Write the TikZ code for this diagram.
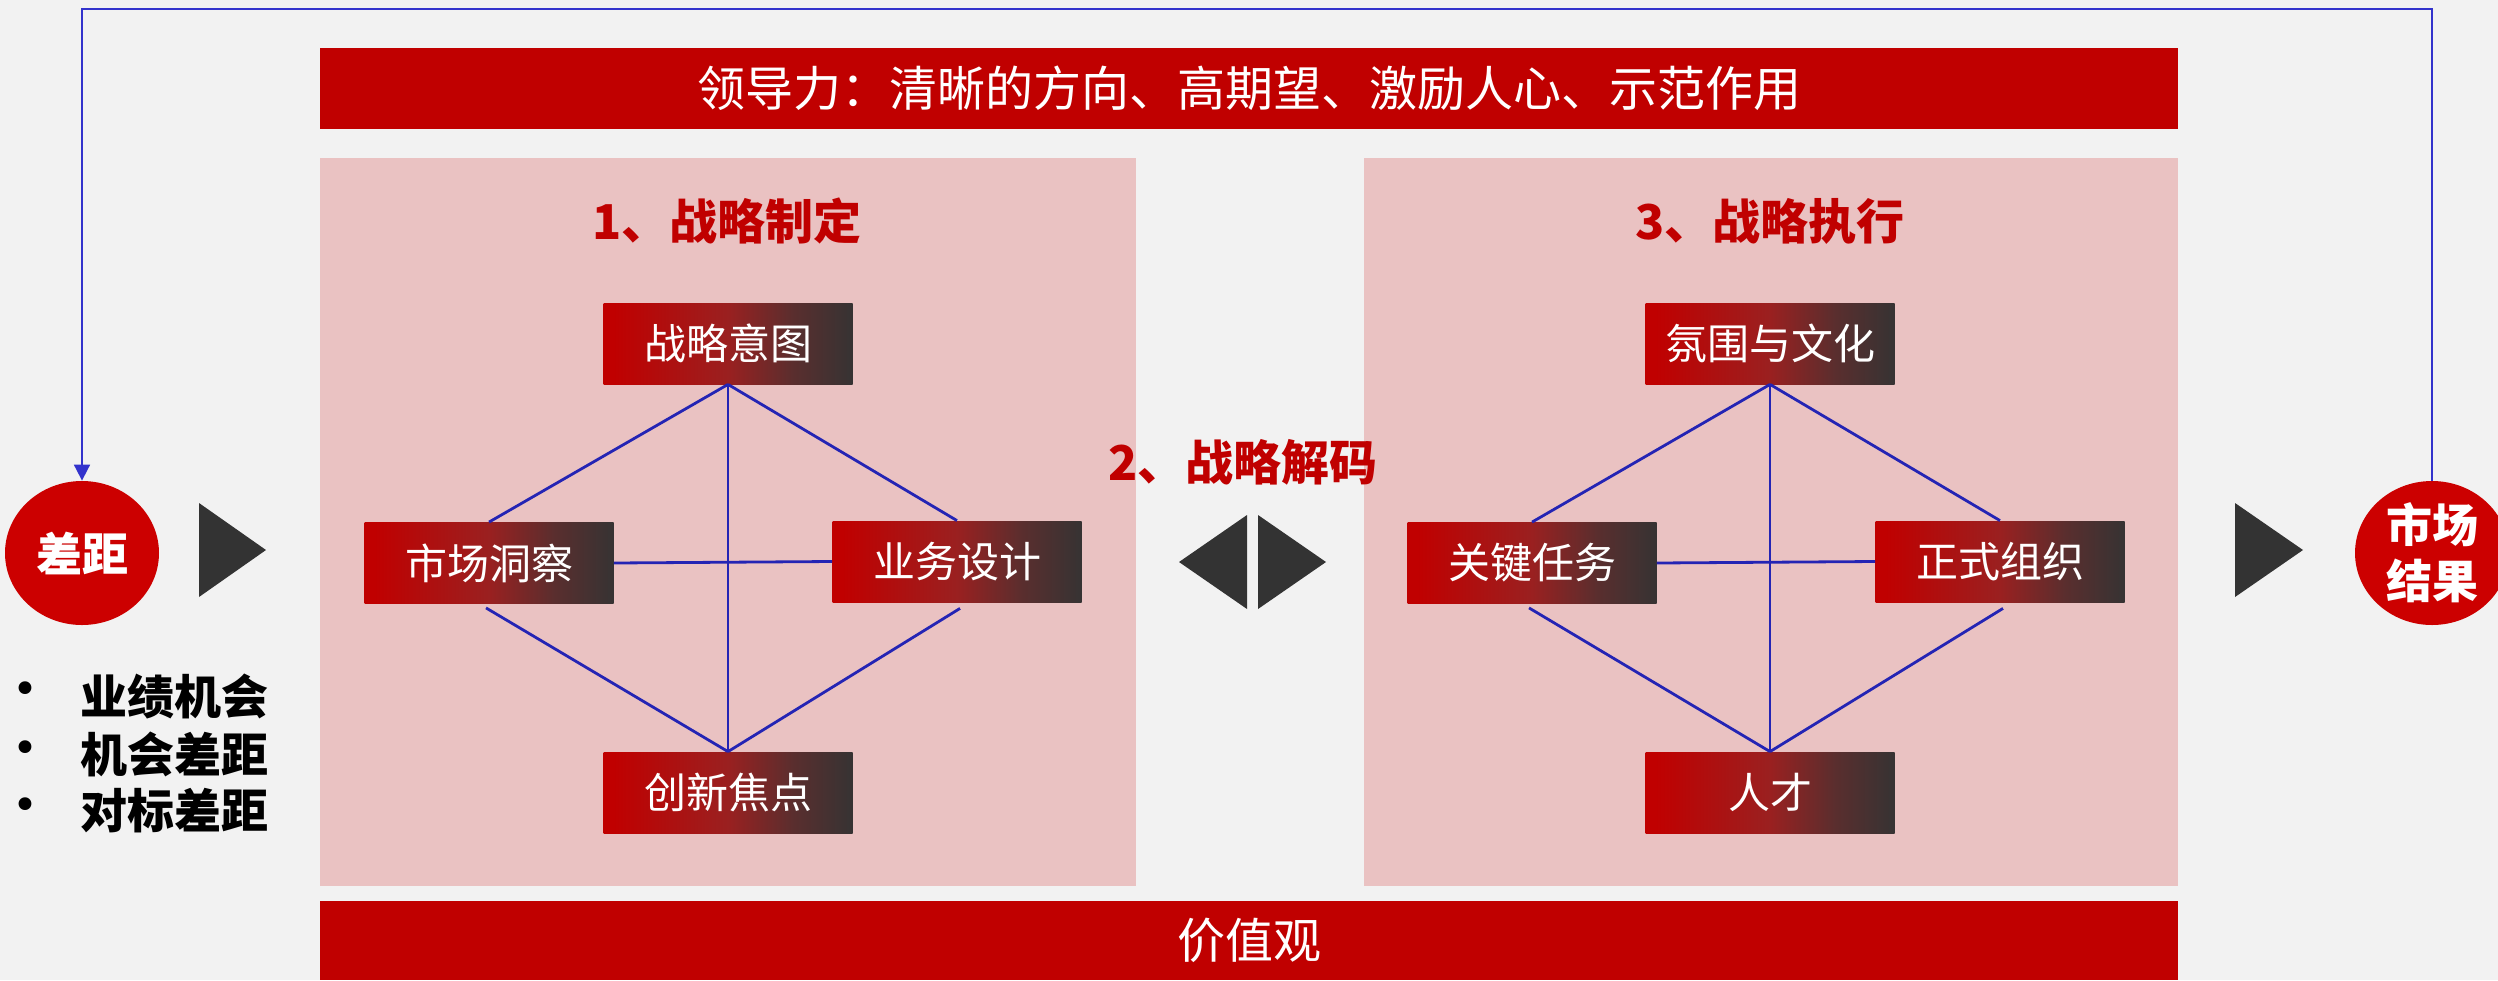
\documentclass[tikz,border=0pt]{standalone}
\usepackage{fontspec}
\newfontfamily\cjk{Noto Sans CJK SC}
\newfontfamily\dejavu{DejaVu Sans}
\usetikzlibrary{shapes.geometric,arrows.meta}
\definecolor{bg}{HTML}{F2F2F2}
\definecolor{bannerred}{HTML}{C00000}
\definecolor{panelpink}{HTML}{EAC2C2}
\definecolor{circred}{HTML}{CC0000}
\definecolor{linkblue}{HTML}{2424B4}
\definecolor{fbblue}{HTML}{3333CC}
\definecolor{tridark}{HTML}{333333}
\definecolor{bred}{HTML}{C00000}
\definecolor{bmid}{HTML}{9A2020}
\definecolor{bmid2}{HTML}{5A2E2E}
\definecolor{bdark}{HTML}{363333}
\pgfdeclarehorizontalshading{boxgrad}{100bp}{color(0bp)=(bred); color(27bp)=(bred); color(50bp)=(bmid); color(63bp)=(bmid2); color(75bp)=(bdark); color(100bp)=(bdark)}
\tikzset{
  banner/.style={fill=bannerred, minimum width=929pt, inner sep=0pt, text=white, font=\cjk\fontsize{24pt}{28pt}\selectfont},
  panel/.style={fill=panelpink, inner sep=0pt, minimum height=364pt},
  sectitle/.style={text=bannerred, inner sep=0pt, font=\cjk\bfseries\fontsize{24pt}{28pt}\selectfont},
  gradbox/.style={shading=boxgrad, minimum width=124.5pt, minimum height=40.5pt, inner sep=0pt, text=white, font=\cjk\fontsize{21pt}{25pt}\selectfont},
  link/.style={draw=linkblue, line width=1.4pt},
  bigdot/.style={ellipse, fill=circred, minimum width=77pt, minimum height=72pt, inner sep=0pt, text=white, align=center, font=\cjk\bfseries\fontsize{23pt}{28pt}\selectfont},
  bullettext/.style={anchor=west, inner sep=0pt, text=black, font=\cjk\bfseries\fontsize{23.5pt}{28pt}\selectfont},
  bulletdot/.style={inner sep=0pt, text=black, font=\dejavu\fontsize{22pt}{24pt}\selectfont},
  tri/.style={fill=tridark}
}
\begin{document}
\begin{tikzpicture}[x=0.5pt,y=-0.5pt]
\fill[bg] (0,0) rectangle (2498,980);
\useasboundingbox (0,0) rectangle (2498,980);

% banners
\node[banner, minimum height=40.5pt] (lead) at (1249,88.5) {领导力：清晰的方向、高期望、激励人心、示范作用};
\node[banner, minimum height=39.5pt] (value) at (1249,940.5) {价值观};

% panels
\node[panel, minimum width=408pt] (lp) at (728,522) {};
\node[panel, minimum width=407pt] (rp) at (1771,522) {};

% titles
\node[sectitle] (t1) at (727,221) {1、战略制定};
\node[sectitle] (t2) at (1243,462) {2、战略解码};
\node[sectitle] (t3) at (1770,221) {3、战略执行};

% left boxes
\node[gradbox] (a1) at (728,343.5) {战略意图};
\node[gradbox] (a2) at (489,563) {市场洞察};
\node[gradbox] (a3) at (957,561.5) {业务设计};
\node[gradbox] (a4) at (728,792.5) {创新焦点};

% right boxes
\node[gradbox] (b1) at (1770,343.5) {氛围与文化};
\node[gradbox] (b2) at (1532,563) {关键任务};
\node[gradbox] (b3) at (2000,561.5) {正式组织};
\node[gradbox] (b4) at (1770,792.5) {人才};

% left links
\draw[link] (a1.south) -- (a2.north);
\draw[link] (a1.south) -- (a3.north);
\draw[link] (a1.south) -- (a4.north);
\draw[link] (a2.east) -- (a3.west);
\draw[link] ([xshift=-1.5pt,yshift=-2pt]a2.south) -- (a4.north);
\draw[link] ([xshift=1.5pt,yshift=-3pt]a3.south) -- (a4.north);

% right links
\draw[link] (b1.south) -- (b2.north);
\draw[link] (b1.south) -- (b3.north);
\draw[link] (b1.south) -- (b4.north);
\draw[link] (b2.east) -- (b3.west);
\draw[link] ([xshift=-1.5pt,yshift=-2pt]b2.south) -- (b4.north);
\draw[link] ([xshift=1.5pt,yshift=-3pt]b3.south) -- (b4.north);

% circles
\node[bigdot] (gap) at (82,553) {差距};
\node[bigdot] (mr) at (2432,553) {市场\\结果};

% feedback line
\coordinate (topline) at (0,9);
\draw[fbblue, line width=0.9pt, -{Triangle[width=8pt,length=8pt]}] (mr.north) -- (mr.north |- topline) -- (gap.north |- topline) -- (gap.north);

% triangles
\fill[tri] (199,503) -- (266,550) -- (199,597) -- cycle;
\fill[tri] (1247,515) -- (1179,562) -- (1247,609) -- cycle;
\fill[tri] (1258,515) -- (1326,562) -- (1258,609) -- cycle;
\fill[tri] (2235,503) -- (2303,550) -- (2235,597) -- cycle;

% bullets
\node[bulletdot] (d1) at (25,693) {•};
\node[bulletdot] (d2) at (25,752) {•};
\node[bulletdot] (d3) at (25,809) {•};
\node[bullettext] (l1) at (80,696) {业绩机会};
\node[bullettext] (l2) at (80,754) {机会差距};
\node[bullettext] (l3) at (80,811) {对标差距};
\end{tikzpicture}
\end{document}
